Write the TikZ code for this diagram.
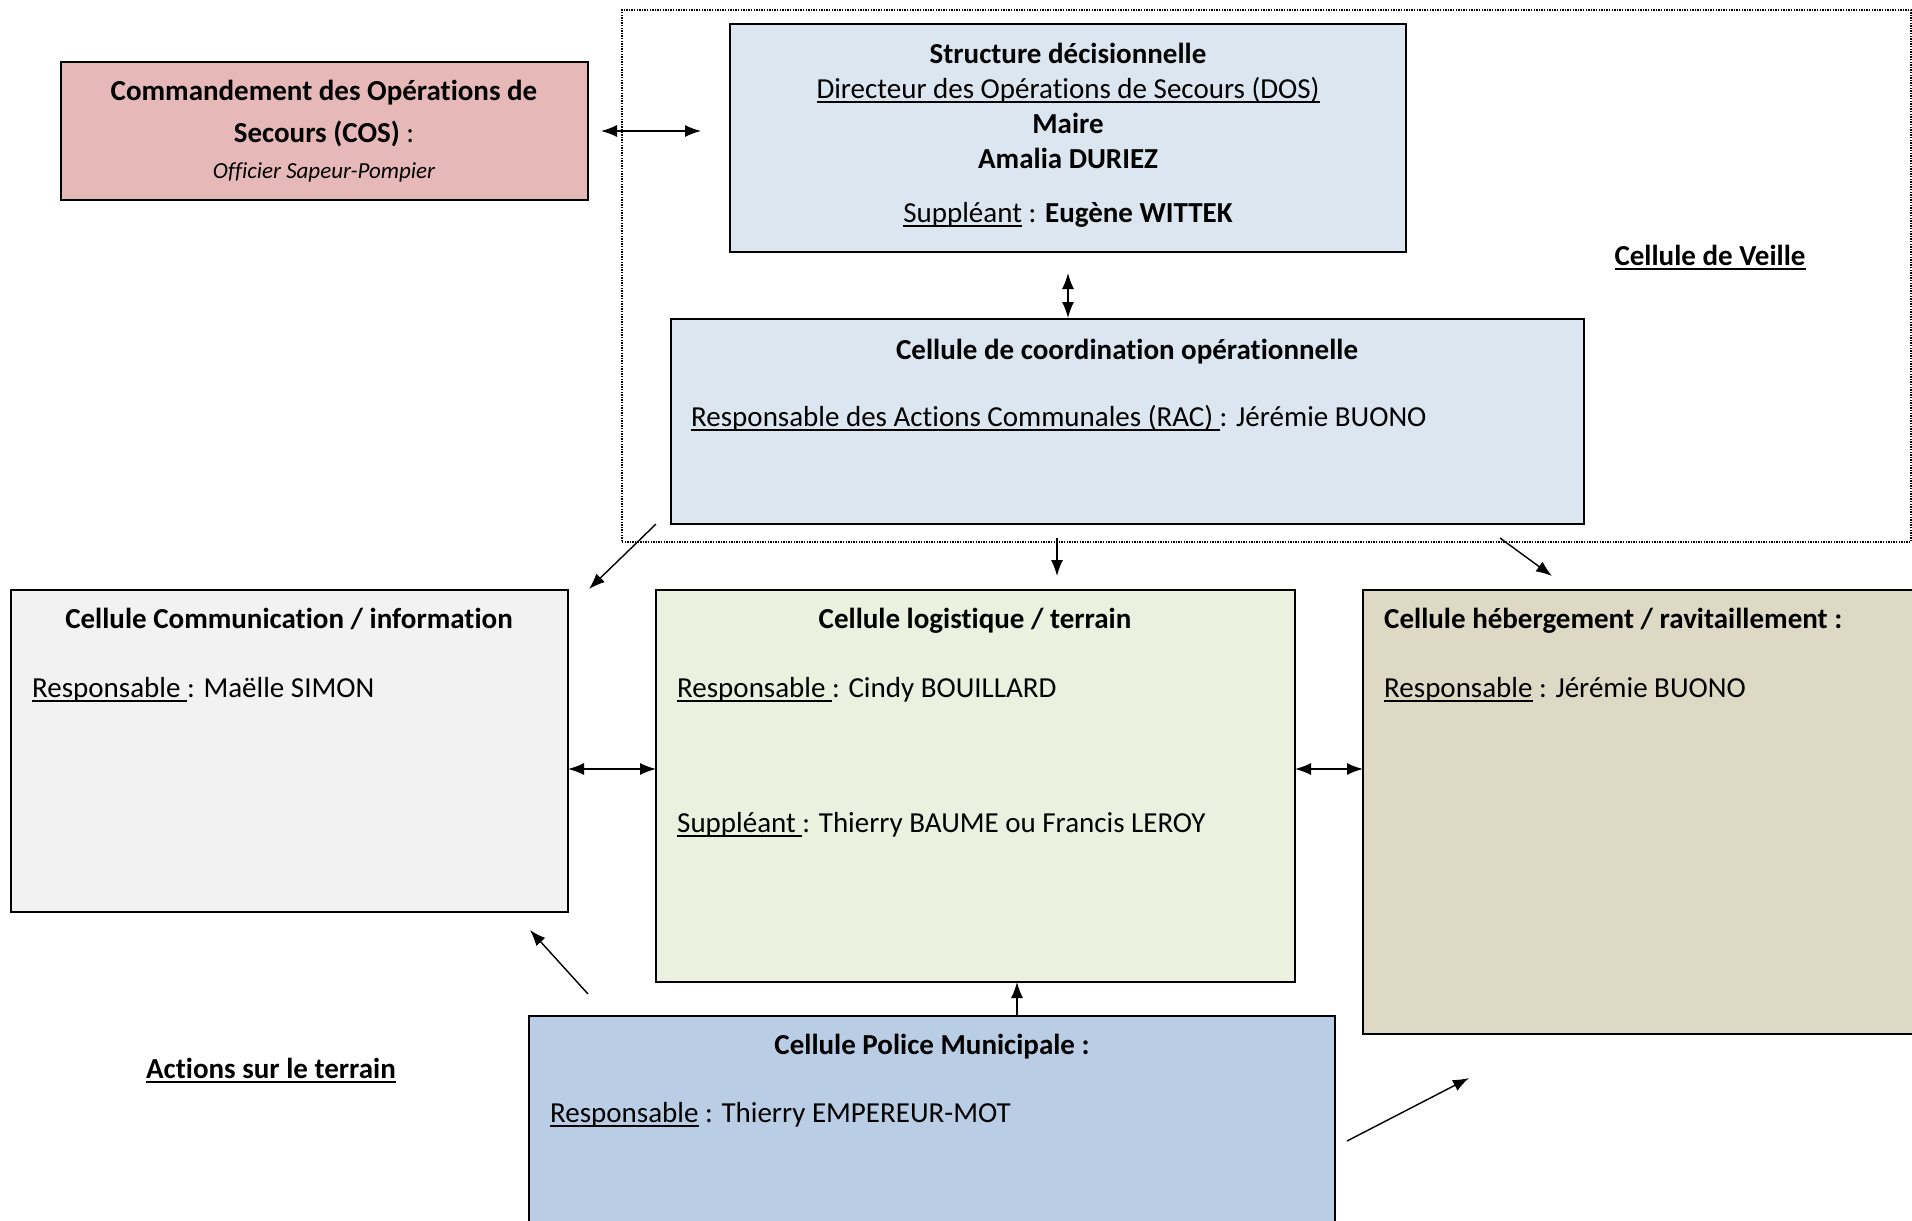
\documentclass[tikz,border=0pt]{standalone}
\usepackage{fontspec}
\setmainfont[Ligatures=NoCommon]{Carlito}
\usetikzlibrary{arrows.meta}
\definecolor{cosfill}{HTML}{E6B8B7}
\definecolor{bluefill}{HTML}{DCE6F1}
\definecolor{greyfill}{HTML}{F2F2F2}
\definecolor{greenfill}{HTML}{EBF1DE}
\definecolor{tanfill}{HTML}{DDD9C4}
\definecolor{policefill}{HTML}{B9CDE5}
\newcommand{\ul}[1]{\leavevmode\setbox0\hbox{#1}\rlap{\rule[-4.5pt]{\wd0}{2pt}}\box0\relax}
\tikzset{
  boxnode/.style={draw=black, line width=1.6pt, rectangle, anchor=north west, inner sep=0pt, outer sep=0pt},
  txt/.style={anchor=base, inner sep=0pt, font=\fontsize{29}{35.4}\selectfont},
  txtl/.style={anchor=base west, inner sep=0pt, font=\fontsize{29}{35.4}\selectfont},
  arr/.style={line width=1.4pt, -{Latex[length=16pt,width=12pt]}},
  dbl/.style={line width=1.4pt, {Latex[length=16pt,width=12pt]}-{Latex[length=16pt,width=12pt]}},
}
\begin{document}
\begin{tikzpicture}[x=1pt,y=-1pt]
\useasboundingbox (0,0) rectangle (1912,1221);
% Cellule de Veille (dotted)
\node[draw=black, line width=1.8pt, dash pattern=on 1.4pt off 1.2pt, rectangle, anchor=north west, inner sep=0pt, minimum width=1289pt, minimum height=532pt] (veille) at (621,9) {};
% boxes
\node[boxnode, fill=cosfill, minimum width=527pt, minimum height=138pt] (cos) at (61,62) {};
\node[boxnode, fill=bluefill, minimum width=676pt, minimum height=228pt] (struct) at (730,24) {};
\node[boxnode, fill=bluefill, minimum width=913pt, minimum height=205pt] (coord) at (671,319) {};
\node[boxnode, fill=greyfill, minimum width=557pt, minimum height=322pt] (comm) at (11,590) {};
\node[boxnode, fill=greenfill, minimum width=639pt, minimum height=392pt] (logi) at (656,590) {};
\node[boxnode, fill=tanfill, minimum width=580pt, minimum height=444pt] (heb) at (1363,590) {};
\node[boxnode, fill=policefill, minimum width=806pt, minimum height=240pt] (police) at (529,1016) {};
% texts
\node[txt] (cos1) at (324,100) {\bfseries Commandement des Opérations de};
\node[txt] (cos2) at (324,142) {\textbf{Secours (COS)} :};
\node[txt, font=\fontsize{23}{28}\selectfont\itshape] (cos3) at (324,178) {Officier Sapeur-Pompier};
\node[txt] (st1) at (1068,63) {\bfseries Structure décisionnelle};
\node[txt] (st2) at (1068,98) {\ul{Directeur des Opérations de Secours (DOS)}};
\node[txt] (st3) at (1068,133) {\bfseries Maire};
\node[txt] (st4) at (1068,168) {\bfseries Amalia DURIEZ};
\node[txt] (st5) at (1068,222) {\ul{Suppléant} : \textbf{Eugène WITTEK}};
\node[txt] (veilletxt) at (1710,265) {\bfseries\ul{Cellule de Veille}};
\node[txt] (co1) at (1127,359) {\bfseries Cellule de coordination opérationnelle};
\node[txtl] (co2) at (691,426) {\ul{Responsable des Actions Communales (RAC) }: Jérémie BUONO};
\node[txt] (cm1) at (289,628) {\bfseries Cellule Communication / information};
\node[txtl] (cm2) at (32,697) {\ul{Responsable }: Maëlle SIMON};
\node[txt] (lg1) at (975,628) {\bfseries Cellule logistique / terrain};
\node[txtl] (lg2) at (677,697) {\ul{Responsable }: Cindy BOUILLARD};
\node[txtl] (lg3) at (677,832) {\ul{Suppléant }: Thierry BAUME ou Francis LEROY};
\node[txtl] (hb1) at (1384,628) {\bfseries Cellule hébergement / ravitaillement :};
\node[txtl] (hb2) at (1384,697) {\ul{Responsable} : Jérémie BUONO};
\node[txt] (pm1) at (932,1054) {\bfseries Cellule Police Municipale :};
\node[txtl] (pm2) at (550,1122) {\ul{Responsable} : Thierry EMPEREUR-MOT};
\node[txt] (actions) at (271,1078) {\bfseries\ul{Actions sur le terrain}};
% connectors
\draw[dbl, shorten <=13pt, shorten >=29pt] (cos.east) -- (cos.east -| struct.west);
\draw[dbl, shorten <=21pt, shorten >=1pt] (struct.south) -- (struct.south |- coord.north);
\draw[arr, shorten <=14pt, shorten >=14pt] ([xshift=386pt]coord.south west) -- ([xshift=401pt]logi.north west);
\draw[arr] ([xshift=-15pt]coord.south west) -- ([xshift=21pt,yshift=1pt]comm.north east);
\draw[arr] ([xshift=-84pt,yshift=-14pt]coord.south east) -- ([xshift=189pt,yshift=14pt]heb.north west);
\draw[dbl] ([yshift=-18pt]comm.east) -- ([yshift=-18pt]comm.east -| logi.west);
\draw[dbl] ([yshift=17pt]logi.east) -- ([yshift=17pt]logi.east -| heb.west);
\draw[arr] ([xshift=488pt]police.north west) -- ([xshift=488pt]police.north west |- logi.south);
\draw[arr] ([xshift=59pt,yshift=22pt]police.north west) -- ([xshift=-38pt,yshift=-18pt]comm.south east);
\draw[arr] ([xshift=12pt,yshift=-125pt]police.north east) -- ([xshift=106pt,yshift=-44pt]heb.south west);
\end{tikzpicture}
\end{document}
